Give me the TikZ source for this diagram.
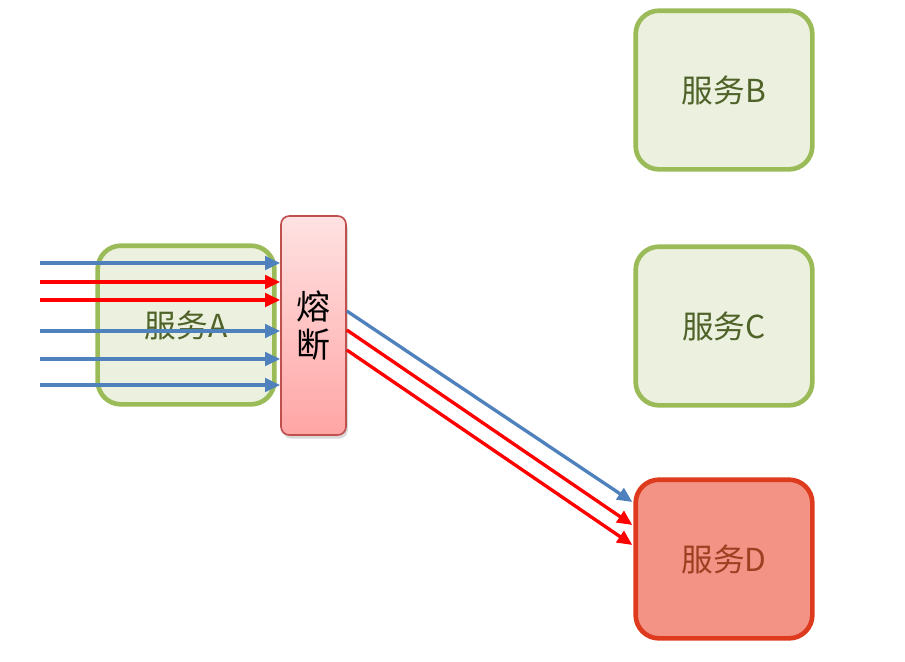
\documentclass[tikz,border=0pt]{standalone}
\usepackage{fontspec}
\setmainfont{Noto Sans CJK SC}
\usetikzlibrary{arrows.meta,shadows}

\definecolor{svcline}{HTML}{9BBB59}
\definecolor{svcfill}{HTML}{EBF1DE}
\definecolor{svctext}{HTML}{4F6228}
\definecolor{badline}{HTML}{DD3A1E}
\definecolor{badfill}{HTML}{F29386}
\definecolor{badtext}{HTML}{9E3F22}
\definecolor{brkline}{HTML}{C0504D}
\definecolor{brktop}{HTML}{FFE2E2}
\definecolor{brkbot}{HTML}{FFA5A5}
\definecolor{okflow}{HTML}{4F81BD}
\definecolor{errflow}{HTML}{FF0000}

\tikzset{
  svc/.style={draw=svcline, fill=svcfill, line width=0.14cm, rounded corners=0.7cm,
    minimum width=5.3cm, minimum height=4.76cm, text=svctext, font=\fontsize{27}{32}\selectfont},
  badsvc/.style={svc, draw=badline, fill=badfill, text=badtext},
  breaker/.style={draw=brkline, line width=0.05cm, rounded corners=0.25cm,
    top color=brktop, bottom color=brkbot, minimum width=1.95cm, minimum height=6.57cm,
    align=center, font=\fontsize{29}{33}\selectfont,
    drop shadow={shadow xshift=1.5pt, shadow yshift=-3pt, opacity=0.3}},
  flow/.style={line width=0.1cm, -{Triangle[length=0.45cm, width=0.4cm]}},
  okarrow/.style={flow, okflow},
  errarrow/.style={flow, errflow},
}

\begin{document}
\begin{tikzpicture}[x=0.03cm, y=-0.03cm]
\useasboundingbox (0,0) rectangle (905,661);

% Services
\node[svc] (svcA) at (186,325) {服务A};
\node[svc] (svcB) at (724,90) {服务B};
\node[svc] (svcC) at (724,326) {服务C};
\node[badsvc] (svcD) at (724,559) {服务D};

% Circuit breaker
\node[breaker] (brk) at (313.5,325.5) {熔\\断};

% Incoming requests
\coordinate (in1) at (40,263);
\coordinate (in2) at (40,282);
\coordinate (in3) at (40,300);
\coordinate (in4) at (40,331);
\coordinate (in5) at (40,359);
\coordinate (in6) at (40,385);
\draw[okarrow] (in1) -- (in1 -| brk.west);
\draw[errarrow] (in2) -- (in2 -| brk.west);
\draw[errarrow] (in3) -- (in3 -| brk.west);
\draw[okarrow] (in4) -- (in4 -| brk.west);
\draw[okarrow] (in5) -- (in5 -| brk.west);
\draw[okarrow] (in6) -- (in6 -| brk.west);

% Calls to D
\draw[okarrow] ([shift={(0,-14.5)}]brk.east) -- ([shift={(-1,-57)}]svcD.west);
\draw[errarrow] ([shift={(0,4.5)}]brk.east) -- ([shift={(-1,-34)}]svcD.west);
\draw[errarrow] ([shift={(0,24.5)}]brk.east) -- ([shift={(-1,-14)}]svcD.west);
\end{tikzpicture}
\end{document}
